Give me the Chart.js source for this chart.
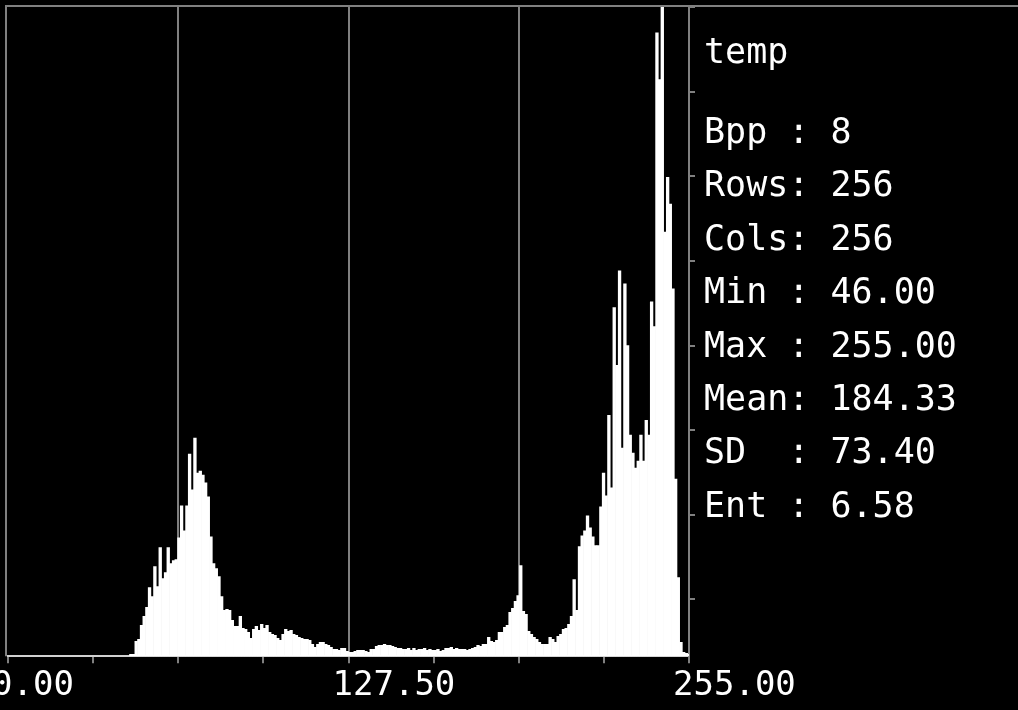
<!DOCTYPE html>
<html>
<head>
<meta charset="utf-8">
<title>temp histogram</title>
<script src="https://cdn.jsdelivr.net/npm/chart.js@4.4.1/dist/chart.umd.min.js"></script>
<style>
    html, body { margin: 0; padding: 0; background: #000; }
    #wrap { width: 1018px; height: 710px; position: relative; }
</style>
</head>
<body>
<div id="wrap"><canvas id="histChart"></canvas></div>
<script>
// Histograma de niveles de gris (bins 46..255, el resto vale 0)
const firstBin = 46;
const counts = [
    2, 2, 15, 17, 31, 40, 49, 69, 60, 90,
    70, 109, 78, 84, 109, 93, 96, 97, 119, 151,
    126, 151, 203, 167, 219, 184, 186, 182, 174, 160,
    120, 93, 88, 80, 60, 46, 47, 46, 36, 30,
    30, 40, 28, 27, 24, 18, 27, 30, 26, 32,
    28, 31, 24, 22, 21, 18, 16, 22, 27, 25,
    26, 22, 21, 19, 18, 17, 17, 16, 12, 9,
    12, 14, 14, 12, 11, 9, 7, 7, 6, 8,
    8, 5, 4, 4, 5, 6, 6, 6, 5, 4,
    7, 7, 10, 11, 11, 12, 11, 11, 10, 9,
    8, 8, 7, 7, 8, 6, 8, 6, 7, 7,
    8, 6, 7, 6, 6, 7, 5, 6, 8, 8,
    9, 7, 8, 7, 7, 7, 6, 7, 8, 9,
    11, 10, 12, 12, 19, 15, 14, 16, 24, 24,
    29, 31, 44, 48, 55, 61, 91, 45, 42, 25,
    22, 19, 17, 14, 12, 12, 12, 19, 17, 14,
    20, 22, 27, 28, 32, 40, 77, 46, 110, 121,
    126, 141, 129, 120, 111, 111, 150, 184, 161, 242,
    169, 350, 292, 387, 209, 374, 312, 222, 204, 189,
    196, 222, 196, 237, 222, 356, 331, 626, 579, 670,
    426, 481, 454, 369, 178, 79, 14, 4, 3, 2
];

// Eje X
const xMin = 0;
const xMax = 255;
const xTickCount = 8;
const xLabelValues = [0, 127.5, 255];
const quarterLines = [63.75, 127.5, 191.25];

// Eje Y (escala arbitraria, el pico se sale del gráfico)
const yMax = 652;
const yTickStep = 85;

// Panel de estadísticas
const title = 'temp';
const statNames = ['Bpp', 'Rows', 'Cols', 'Min', 'Max', 'Mean', 'SD', 'Ent'];
const statValues = ['8', '256', '256', '46.00', '255.00', '184.33', '73.40', '6.58'];

const gray = '#808080';
const monoFont = '"DejaVu Sans Mono", "Liberation Mono", monospace';

const points = counts.map((c, i) => ({ x: firstBin + i, y: c }));

// Fondo negro
const backgroundPlugin = {
    id: 'background',
    beforeDraw(chart) {
        const ctx = chart.ctx;
        ctx.save();
        ctx.fillStyle = '#000';
        ctx.fillRect(0, 0, chart.width, chart.height);
        ctx.restore();
    }
};

// Marco gris superior e izquierdo
const framePlugin = {
    id: 'frame',
    afterDraw(chart) {
        const ctx = chart.ctx;
        const area = chart.chartArea;
        ctx.save();
        ctx.strokeStyle = gray;
        ctx.lineWidth = 2;
        ctx.beginPath();
        ctx.moveTo(5, 6);
        ctx.lineTo(chart.width, 6);
        ctx.moveTo(6, 5);
        ctx.lineTo(6, area.bottom);
        ctx.stroke();
        ctx.restore();
    }
};

// Texto de estadísticas a la derecha
const statsPlugin = {
    id: 'stats',
    afterDraw(chart) {
        const ctx = chart.ctx;
        const x = chart.chartArea.right + 15;
        ctx.save();
        ctx.fillStyle = '#fff';
        ctx.font = '35px ' + monoFont;
        ctx.textBaseline = 'alphabetic';
        ctx.textAlign = 'left';
        ctx.fillText(title, x, 63);
        statNames.forEach((name, i) => {
            const line = name.padEnd(4, ' ') + ': ' + statValues[i];
            ctx.fillText(line, x, 143 + i * 53.4);
        });
        ctx.restore();
    }
};

const ctx = document.getElementById('histChart').getContext('2d');

new Chart(ctx, {
    type: 'bar',
    data: {
        datasets: [{
            data: points,
            backgroundColor: '#ffffff',
            borderWidth: 0,
            barPercentage: 1,
            categoryPercentage: 1
        }]
    },
    options: {
        responsive: true,
        maintainAspectRatio: false,
        animation: false,
        layout: {
            padding: { left: 8, top: 7, right: 323, bottom: 0 }
        },
        plugins: {
            legend: { display: false },
            tooltip: { enabled: false }
        },
        scales: {
            x: {
                type: 'linear',
                min: xMin,
                max: xMax,
                offset: false,
                afterBuildTicks: scale => {
                    const step = (xMax - xMin) / xTickCount;
                    const ticks = [];
                    for (let k = 0; k <= xTickCount; k++) {
                        ticks.push({ value: xMin + k * step });
                    }
                    scale.ticks = ticks;
                },
                grid: {
                    offset: false,
                    color: c => (c.tick && quarterLines.includes(c.tick.value)) ? gray : 'rgba(0,0,0,0)',
                    tickColor: gray,
                    lineWidth: 2,
                    tickLength: 7,
                    drawTicks: true
                },
                border: { color: '#d0d0d0', width: 2 },
                ticks: {
                    autoSkip: false,
                    maxRotation: 0,
                    align: 'start',
                    labelOffset: -16,
                    padding: 3,
                    color: '#ffffff',
                    font: { family: monoFont, size: 34 },
                    callback: v => xLabelValues.includes(v) ? Number(v).toFixed(2) : ''
                }
            },
            y: {
                position: 'right',
                min: 0,
                max: yMax,
                afterBuildTicks: scale => {
                    const ticks = [];
                    for (let k = 0; k <= 7; k++) {
                        ticks.push({ value: yMax - k * yTickStep });
                    }
                    scale.ticks = ticks;
                },
                grid: {
                    drawOnChartArea: false,
                    drawTicks: true,
                    tickLength: 6,
                    tickColor: gray,
                    lineWidth: 2
                },
                border: { color: gray, width: 2 },
                ticks: { display: false }
            }
        }
    },
    plugins: [backgroundPlugin, framePlugin, statsPlugin]
});
</script>
</body>
</html>
